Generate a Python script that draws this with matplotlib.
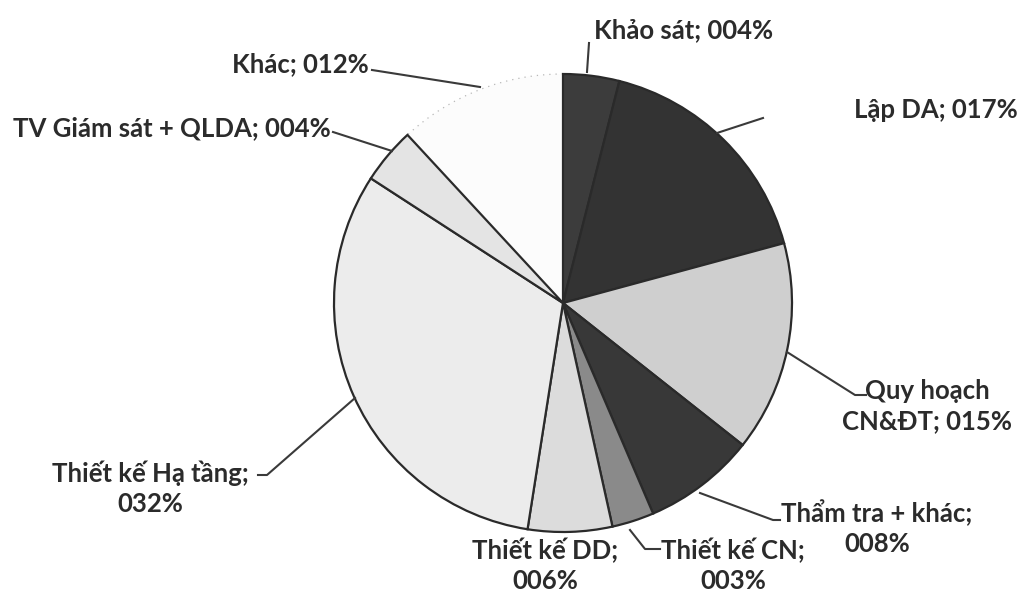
import matplotlib
matplotlib.use('Agg')
import matplotlib.pyplot as plt

labels = ['Khảo sát', 'Lập DA', 'Quy hoạch\nCN&ĐT', 'Thẩm tra + khác;\n', 'Thiết kế CN;\n',
          'Thiết kế DD;\n', 'Thiết kế Hạ tầng;\n', 'TV Giám sát + QLDA', 'Khác']
values = [4, 17, 15, 8, 3, 6, 32, 4, 12]
colors = ['#3c3c3c', '#333333', '#cfcfcf', '#383838', '#8a8a8a',
          '#dcdcdc', '#ececec', '#e4e4e4', '#fcfcfc']
explode = [0, 0.025, 0, 0, 0, 0, 0, 0.02, 0]

# label text position (x, y in px from top), leader line points
label_pos = [(684, 30), (936, 110), (927, 406), (877, 528), (733, 565),
             (545, 565), (150, 488), (172, 128), (300, 64)]
leaders = [[(587, 72), (589, 43)],
           [(717, 133), (763, 118)],
           [(787, 352), (855, 395), (866, 395)],
           [(700, 493), (773, 520), (780, 520)],
           [(630, 530), (645, 549), (660, 549)],
           None,
           [(355, 398), (267, 475), (258, 475)],
           [(333, 132), (392, 151)],
           [(372, 70), (480, 87)]]

H = 594
fig = plt.figure(figsize=(10.21, 5.94), dpi=100)
ax = fig.add_axes([0, 0, 1, 1])

wedges, _ = ax.pie(values, colors=colors, explode=explode, startangle=90,
                   counterclock=False, center=(563, H - 303), radius=229,
                   wedgeprops=dict(edgecolor='#2a2a2a', linewidth=1.6))
wedges[-1].set_edgecolor('#b8b8b8')
wedges[-1].set_linewidth(0.9)
wedges[-1].set_linestyle((0, (1, 4)))
wedges[-1].set_zorder(0)
ax.set_xlim(0, 1021)
ax.set_ylim(0, H)
ax.set_aspect('auto')
ax.axis('off')

font = dict(family=['Lato', 'DejaVu Sans'], fontsize=18.5, weight='bold', color='#2b2b2b')
for i, (lab, v) in enumerate(zip(labels, values)):
    x, y = label_pos[i]
    if lab.endswith('\n'):
        txt = lab + '%03d%%' % v
    else:
        txt = lab + '; %03d%%' % v
    ax.text(x, H - y, txt, ha='center', va='center', linespacing=1.3, **font)
    if leaders[i]:
        xs = [p[0] for p in leaders[i]]
        ys = [H - p[1] for p in leaders[i]]
        ax.plot(xs, ys, color='#3a3a3a', lw=1.5)

fig.savefig('out.png', dpi=100)
